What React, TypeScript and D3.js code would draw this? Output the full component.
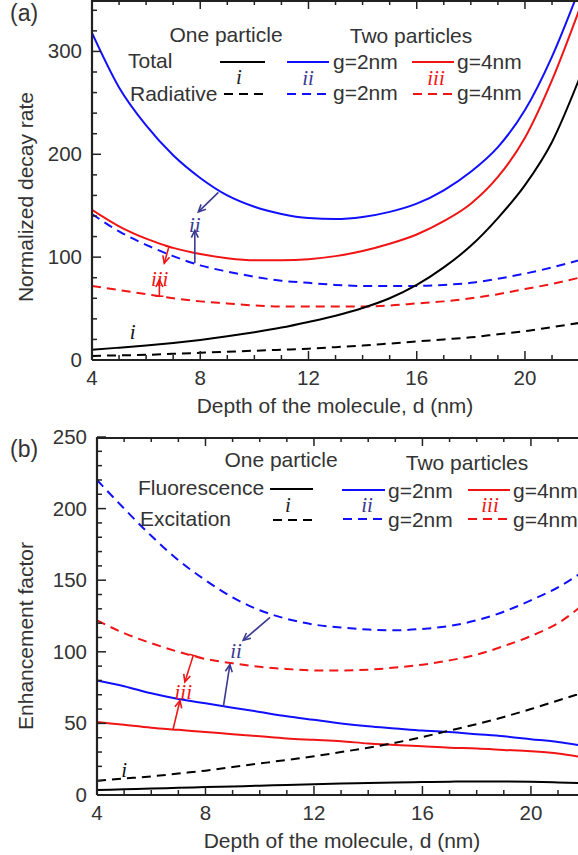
import React from 'react';
import * as d3 from 'd3';

// ---------- data ----------
const depth = [4, 5, 6, 7, 8, 9, 10, 11, 12, 13, 14, 15, 16, 17, 18, 19, 20, 21, 22];

// Panel (a): normalized decay rate
const aTotalOne = [10, 12, 14, 16.5, 19.5, 23, 27, 31.5, 37, 43, 50.5, 60, 73, 90, 111, 138, 170, 212, 273];
const aRadOne = [4, 4.5, 5, 6, 7, 8, 9, 10, 11, 12.5, 14, 16, 18, 20, 22, 25, 28, 32, 36];
const aTotalG2 = [318, 265, 228, 199, 177, 160, 149, 142, 138, 137, 139, 144, 152, 165, 183, 207, 243, 295, 360];
const aRadG2 = [142, 125, 112, 101, 92, 86, 81, 77, 75, 73, 72, 72, 72, 73, 75, 79, 84, 90, 97];
const aTotalG4 = [146, 130, 118, 109, 103, 99, 97, 97, 98, 101, 106, 113, 122, 135, 152, 178, 216, 272, 340];
const aRadG4 = [72, 68, 64, 60, 57, 55, 53, 52, 52, 52, 52, 53, 55, 57, 60, 64, 69, 74, 80];

// Panel (b): enhancement factor
const bFluoOne = [3.5, 4, 4.5, 5, 5.5, 6, 6.5, 7, 7.5, 8, 8.3, 8.7, 9, 9.3, 9.5, 9.5, 9.3, 8.8, 8.2];
const bExcOne = [10, 11.5, 13, 15, 17, 19.5, 22, 24.5, 27, 30, 33, 36.5, 40.5, 45, 49.5, 54.5, 60, 66, 72];
const bFluoG2 = [80, 76, 71, 67, 64, 61, 58, 55, 52.5, 50, 48, 46.5, 45, 44, 42.5, 41, 39, 37, 34];
const bExcG2 = [220, 200, 181, 164, 150, 138, 129, 123, 119, 117, 115.5, 115, 116, 118, 122, 128, 136, 145, 157];
const bFluoG4 = [51, 49, 47, 45.5, 44, 42.5, 41, 39.5, 38.5, 37.5, 36, 35, 34, 33, 32.5, 31.5, 30.5, 29, 26];
const bExcG4 = [122, 113, 106, 100, 95, 92, 89.5, 88, 87, 87, 87.5, 89, 91, 94, 98, 104, 111, 120, 134];

const xTickValues = [4, 8, 12, 16, 20];
const aYTickValues = [0, 100, 200, 300];
const bYTickValues = [0, 50, 100, 150, 200, 250];

// annotations (data coords)
const aArrows = [
  { from: [8.67, 163], to: [7.93, 144], color: 'navy', cap: false },
  { from: [7.8, 94], to: [7.8, 126], color: 'navy', cap: false },
  { from: [6.84, 110], to: [6.67, 94], color: 'red', cap: true },
  { from: [6.49, 62], to: [6.49, 78], color: 'red', cap: true },
];
const aLabels = [
  { at: [5.5, 26], text: 'i', color: 'black' },
  { at: [7.8, 130], text: 'ii', color: 'navy' },
  { at: [6.5, 78], text: 'iii', color: 'red' },
];
const bArrows = [
  { from: [10.38, 124], to: [9.39, 108], color: 'navy', cap: false },
  { from: [8.66, 61.7], to: [8.9, 91], color: 'navy', cap: false },
  { from: [7.55, 97.5], to: [7.24, 79], color: 'red', cap: true },
  { from: [6.8, 45.5], to: [7.06, 66], color: 'red', cap: false },
];
const bLabels = [
  { at: [5.0, 17], text: 'i', color: 'black' },
  { at: [9.13, 100], text: 'ii', color: 'navy' },
  { at: [7.18, 71], text: 'iii', color: 'red' },
];

// ---------- style ----------
const W = 578;
const H = 855;
const SANS = "'Liberation Sans', Arial, Helvetica, sans-serif";
const SERIF = "'Liberation Serif', 'Times New Roman', serif";
const TXT = '#333';
const BLUE = '#1010ff';
const RED = '#f01414';
const NAVY = '#3a3a90';
const DASH = '9,6';
const colorOf = (c: string) => (c === 'navy' ? NAVY : c === 'red' ? RED : '#111');

type Series = { values: number[]; color: string; dashed: boolean };

function Panel(props: {
  id: string;
  left: number;
  top: number;
  bottom: number;
  xPerUnit: number;
  yMax: number;
  yTicks: number[];
  yMinorStep: number;
  series: Series[];
  arrows: any[];
  labels: any[];
}) {
  const { id, left, top, bottom, xPerUnit, yMax, yTicks, yMinorStep, series, arrows, labels } = props;
  const x = d3.scaleLinear().domain([4, 22]).range([left, left + 18 * xPerUnit]);
  const y = d3.scaleLinear().domain([0, yMax]).range([bottom, top]);
  const line = d3
    .line<number>()
    .x((_, i) => x(depth[i]))
    .y((v) => y(v))
    .curve(d3.curveMonotoneX);
  const xMinor = d3.range(4, 23, 1);
  const yMinor = d3.range(0, yMax + 0.001, yMinorStep);
  const right = W + 2;

  const arrowEl = (a: any, k: number) => {
    const x1 = x(a.from[0]);
    const y1 = y(a.from[1]);
    const x2 = x(a.to[0]);
    const y2 = y(a.to[1]);
    const ang = Math.atan2(y2 - y1, x2 - x1);
    const L = 8;
    const sp = 0.45;
    const h1 = [x2 - L * Math.cos(ang - sp), y2 - L * Math.sin(ang - sp)];
    const h2 = [x2 - L * Math.cos(ang + sp), y2 - L * Math.sin(ang + sp)];
    const c = colorOf(a.color);
    const px = -Math.sin(ang) * 4;
    const py = Math.cos(ang) * 4;
    return (
      <g key={k} stroke={c} strokeWidth={1.6} fill="none">
        <line x1={x1} y1={y1} x2={x2} y2={y2} />
        <path d={`M${h1[0]},${h1[1]}L${x2},${y2}L${h2[0]},${h2[1]}`} />
        {a.cap && <line x1={x1 - px} y1={y1 - py} x2={x1 + px} y2={y1 + py} />}
      </g>
    );
  };

  return (
    <g>
      <defs>
        <clipPath id={`clip-${id}`}>
          <rect x={left} y={top} width={right - left} height={bottom - top} />
        </clipPath>
      </defs>
      <g clipPath={`url(#clip-${id})`} fill="none">
        {series.map((s, i) => (
          <path
            key={i}
            d={line(s.values) || ''}
            stroke={s.color}
            strokeWidth={2}
            strokeDasharray={s.dashed ? DASH : undefined}
          />
        ))}
      </g>
      <g stroke="#222" fill="none">
        <line x1={left} y1={top} x2={left} y2={bottom} strokeWidth={2.2} />
        <line x1={left} y1={bottom} x2={right} y2={bottom} strokeWidth={2.2} />
        <line x1={left} y1={top + 1} x2={right} y2={top + 1} strokeWidth={2} />
        {xMinor.map((v) => {
          const major = xTickValues.includes(v);
          const len = major ? 9 : 5;
          return (
            <g key={'xt' + v} strokeWidth={1.5}>
              <line x1={x(v)} x2={x(v)} y1={bottom} y2={bottom - len} />
              <line x1={x(v)} x2={x(v)} y1={top} y2={top + len} />
            </g>
          );
        })}
        {yMinor.map((v) => {
          const major = yTicks.includes(v);
          const len = major ? 9 : 5;
          return <line key={'yt' + v} strokeWidth={1.5} x1={left} x2={left + len} y1={y(v)} y2={y(v)} />;
        })}
      </g>
      <g fill={TXT} fontFamily={SANS} fontSize={20.5}>
        {xTickValues.map((v) => (
          <text key={'xl' + v} x={x(v)} y={bottom + 25} textAnchor="middle">
            {v}
          </text>
        ))}
        {yTicks.map((v) => (
          <text key={'yl' + v} x={left - 10} y={y(v) + 7} textAnchor="end">
            {v}
          </text>
        ))}
      </g>
      {arrows.map(arrowEl)}
      {labels.map((l, k) => (
        <text
          key={'lab' + k}
          x={x(l.at[0])}
          y={y(l.at[1]) + 6}
          textAnchor="middle"
          fontFamily={SERIF}
          fontStyle="italic"
          fontSize={21}
          fill={colorOf(l.color)}
        >
          {l.text}
        </text>
      ))}
    </g>
  );
}

function LegendLine(p: { x1: number; x2: number; y: number; color: string; dashed?: boolean }) {
  return (
    <line
      x1={p.x1}
      x2={p.x2}
      y1={p.y}
      y2={p.y}
      stroke={p.color}
      strokeWidth={2}
      strokeDasharray={p.dashed ? DASH : undefined}
    />
  );
}

function Roman(p: { x: number; y: number; text: string; color: string }) {
  return (
    <text x={p.x} y={p.y} textAnchor="middle" fontFamily={SERIF} fontStyle="italic" fontSize={21} fill={p.color}>
      {p.text}
    </text>
  );
}

export default function App() {
  const aSeries: Series[] = [
    { values: aTotalG2, color: BLUE, dashed: false },
    { values: aRadG2, color: BLUE, dashed: true },
    { values: aTotalG4, color: RED, dashed: false },
    { values: aRadG4, color: RED, dashed: true },
    { values: aTotalOne, color: '#000', dashed: false },
    { values: aRadOne, color: '#000', dashed: true },
  ];
  const bSeries: Series[] = [
    { values: bExcG2, color: BLUE, dashed: true },
    { values: bExcG4, color: RED, dashed: true },
    { values: bFluoG2, color: BLUE, dashed: false },
    { values: bFluoG4, color: RED, dashed: false },
    { values: bExcOne, color: '#000', dashed: true },
    { values: bFluoOne, color: '#000', dashed: false },
  ];

  return (
    <svg
      width={W}
      height={H}
      viewBox={`0 0 ${W} ${H}`}
      style={{ position: 'absolute', left: 0, top: 0, background: '#fff' }}
    >
      <rect x={0} y={0} width={W} height={H} fill="#fff" />
      <Panel
        id="a"
        left={92}
        top={0}
        bottom={360}
        xPerUnit={27.06}
        yMax={350}
        yTicks={aYTickValues}
        yMinorStep={20}
        series={aSeries}
        arrows={aArrows}
        labels={aLabels}
      />
      <g fontFamily={SANS} fill={TXT} fontSize={21}>
        <text x={10} y={21} fontSize={23}>(a)</text>
        <text transform="translate(33,197) rotate(-90)" textAnchor="middle">Normalized decay rate</text>
        <text x={335} y={413} textAnchor="middle">Depth of the molecule, d (nm)</text>
        <text x={226} y={42} textAnchor="middle">One particle</text>
        <text x={411} y={43} textAnchor="middle">Two particles</text>
        <text x={128} y={68}>Total</text>
        <text x={130} y={101}>Radiative</text>
        <text x={333} y={69}>g=2nm</text>
        <text x={333} y={100}>g=2nm</text>
        <text x={457} y={69}>g=4nm</text>
        <text x={457} y={100}>g=4nm</text>
      </g>
      <LegendLine x1={220} x2={265} y={62} color="#000" />
      <LegendLine x1={224} x2={266} y={94} color="#000" dashed />
      <LegendLine x1={287} x2={329} y={62} color={BLUE} />
      <LegendLine x1={287} x2={329} y={94} color={BLUE} dashed />
      <LegendLine x1={412} x2={454} y={62} color={RED} />
      <LegendLine x1={413} x2={455} y={94} color={RED} dashed />
      <Roman x={239} y={84} text="i" color="#222" />
      <Roman x={308} y={85} text="ii" color={NAVY} />
      <Roman x={436} y={85} text="iii" color={RED} />

      <Panel
        id="b"
        left={97}
        top={437}
        bottom={795}
        xPerUnit={27.12}
        yMax={250}
        yTicks={bYTickValues}
        yMinorStep={10}
        series={bSeries}
        arrows={bArrows}
        labels={bLabels}
      />
      <g fontFamily={SANS} fill={TXT} fontSize={21}>
        <text x={10} y={457} fontSize={23}>(b)</text>
        <text transform="translate(33,636) rotate(-90)" textAnchor="middle">Enhancement factor</text>
        <text x={342} y={848} textAnchor="middle">Depth of the molecule, d (nm)</text>
        <text x={281} y={467} textAnchor="middle">One particle</text>
        <text x={467} y={470} textAnchor="middle">Two particles</text>
        <text x={138} y={495}>Fluorescence</text>
        <text x={140} y={526}>Excitation</text>
        <text x={388} y={498}>g=2nm</text>
        <text x={388} y={527}>g=2nm</text>
        <text x={513} y={498}>g=4nm</text>
        <text x={513} y={527}>g=4nm</text>
      </g>
      <LegendLine x1={270} x2={313} y={489} color="#000" />
      <LegendLine x1={273} x2={314} y={520} color="#000" dashed />
      <LegendLine x1={342} x2={385} y={490} color={BLUE} />
      <LegendLine x1={343} x2={385} y={519} color={BLUE} dashed />
      <LegendLine x1={468} x2={510} y={490} color={RED} />
      <LegendLine x1={468} x2={510} y={519} color={RED} dashed />
      <Roman x={288} y={512} text="i" color="#222" />
      <Roman x={367} y={512} text="ii" color={NAVY} />
      <Roman x={490} y={512} text="iii" color={RED} />
    </svg>
  );
}
